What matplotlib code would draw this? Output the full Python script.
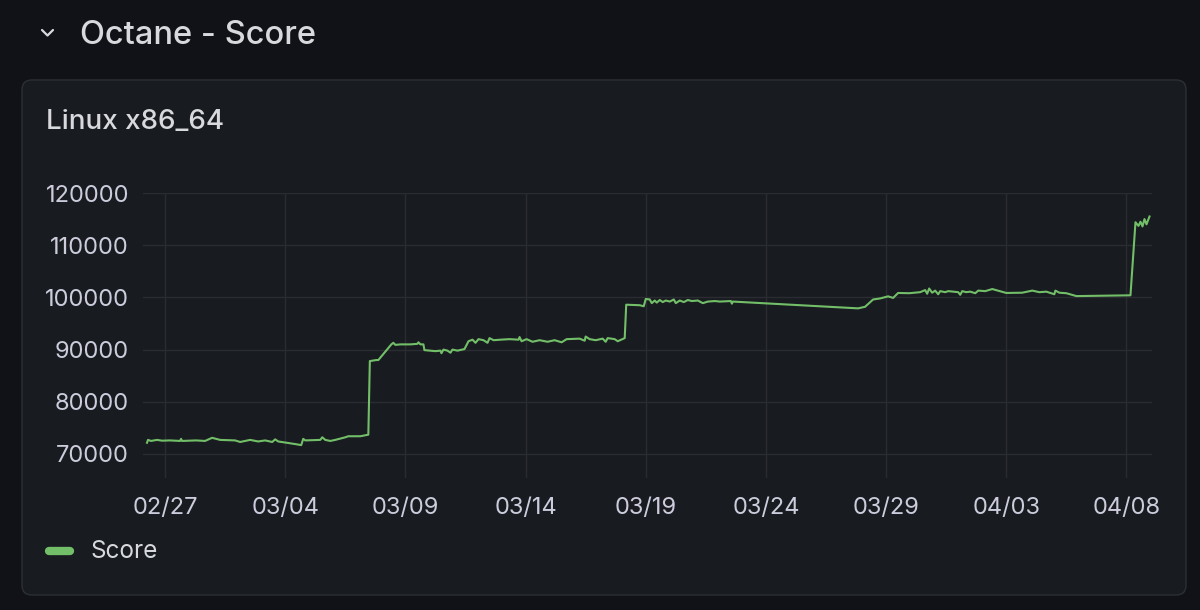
import matplotlib
matplotlib.use("Agg")
import matplotlib.pyplot as plt
import matplotlib.dates as mdates
from matplotlib.patches import FancyBboxPatch
from matplotlib.lines import Line2D
import pandas as pd

# ---------------- data ----------------
times = [
    "02-26 06:00", "02-26 07:00", "02-26 10:00", "02-26 16:00", "02-26 21:00",
    "02-27 05:00", "02-27 15:00", "02-27 16:00", "02-27 17:00", "02-28 07:00",
    "02-28 16:00", "02-28 23:00", "03-01 07:00", "03-01 22:00", "03-02 03:00",
    "03-02 13:00", "03-02 21:00", "03-03 04:00", "03-03 11:00", "03-03 14:00",
    "03-03 17:00", "03-04 10:00", "03-04 16:00", "03-04 18:00", "03-04 20:00",
    "03-05 11:00", "03-05 13:00", "03-05 16:00", "03-05 21:00", "03-06 02:00",
    "03-06 12:00", "03-06 15:00", "03-07 03:00", "03-07 11:00", "03-07 12:30",
    "03-07 19:00", "03-07 21:00", "03-08 10:00", "03-08 12:00", "03-08 14:00",
    "03-08 19:00", "03-09 05:00", "03-09 12:00", "03-09 13:00", "03-09 15:00",
    "03-09 18:00", "03-09 19:00", "03-10 06:00", "03-10 11:00", "03-10 12:00",
    "03-10 14:00", "03-10 18:00", "03-10 21:00", "03-10 23:00", "03-11 04:00",
    "03-11 11:00", "03-11 15:00", "03-11 19:00", "03-11 22:00", "03-12 01:00",
    "03-12 06:00", "03-12 10:00", "03-12 12:00", "03-12 16:00", "03-12 23:00",
    "03-13 08:00", "03-13 17:00", "03-13 18:00", "03-13 20:00", "03-14 01:00",
    "03-14 07:00", "03-14 14:00", "03-14 22:00", "03-15 05:00", "03-15 12:00",
    "03-15 17:00", "03-16 06:00", "03-16 11:00", "03-16 12:00", "03-16 16:00",
    "03-16 22:00", "03-17 05:00", "03-17 08:00", "03-17 10:00", "03-17 17:00",
    "03-17 20:00", "03-18 03:00", "03-18 04:30", "03-18 18:00", "03-18 22:00",
    "03-19 00:00", "03-19 04:00", "03-19 06:00", "03-19 09:00", "03-19 11:00",
    "03-19 14:00", "03-19 17:00", "03-19 20:00", "03-20 00:00", "03-20 04:00",
    "03-20 06:00", "03-20 10:00", "03-20 14:00", "03-20 18:00", "03-20 22:00",
    "03-21 04:00", "03-21 09:00", "03-21 14:00", "03-21 21:00", "03-22 02:00",
    "03-22 13:00", "03-22 14:00", "03-22 15:00", "03-27 20:00", "03-28 03:00",
    "03-28 11:00", "03-28 18:00", "03-29 02:00", "03-29 07:00", "03-29 12:00",
    "03-29 23:00", "03-30 10:00", "03-30 15:00", "03-30 17:00", "03-30 19:00",
    "03-30 22:00", "03-31 01:00", "03-31 04:00", "03-31 06:00", "03-31 11:00",
    "03-31 14:00", "04-01 00:00", "04-01 02:00", "04-01 04:00", "04-01 08:00",
    "04-01 12:00", "04-01 17:00", "04-01 20:00", "04-02 03:00", "04-02 10:00",
    "04-03 00:00", "04-03 16:00", "04-04 02:00", "04-04 09:00", "04-04 16:00",
    "04-05 00:00", "04-05 01:00", "04-05 05:00", "04-05 12:00", "04-05 22:00",
    "04-08 04:00", "04-08 09:00", "04-08 12:00", "04-08 14:00", "04-08 16:00",
    "04-08 18:00", "04-08 20:00", "04-08 23:00",
]
scores = [
    72150, 72700, 72500, 72700, 72550,
    72600, 72500, 72900, 72500, 72600,
    72500, 73100, 72700, 72600, 72300,
    72700, 72400, 72600, 72300, 72800,
    72400, 71900, 71700, 72900, 72600,
    72700, 73200, 72700, 72500, 72700,
    73200, 73400, 73400, 73700, 87800,
    88000, 88000, 91000, 91300, 90900,
    91000, 91000, 91100, 91400, 91000,
    91000, 89900, 89700, 89800, 89300,
    90000, 89800, 89400, 90000, 89800,
    90100, 91600, 91900, 91300, 92000,
    91800, 91300, 92200, 91800, 91900,
    92000, 91900, 92400, 91600, 92000,
    91500, 91800, 91500, 91800, 91400,
    92000, 92100, 91700, 92500, 92000,
    91800, 92100, 91500, 92200, 92000,
    91600, 92200, 98600, 98500, 98300,
    99700, 99600, 98900, 99400, 99000,
    99500, 99100, 99400, 99200, 99600,
    98900, 99400, 99100, 99500, 99300,
    99400, 98900, 99200, 99300, 99200,
    99300, 98800, 99200, 97900, 98200,
    99600, 99800, 100200, 99900, 100850,
    100800, 101000, 101400, 100700, 101700,
    100900, 101300, 100600, 101200, 101000,
    101200, 101000, 100500, 101200, 101000,
    101100, 100800, 101300, 101200, 101600,
    100850, 100900, 101300, 101000, 101100,
    100600, 101300, 100900, 100800, 100250,
    100400, 114400, 113700, 114500, 113600,
    115000, 114000, 115500,
]
year = "2025"
x_tick_dates = ["02-27", "03-04", "03-09", "03-14", "03-19", "03-24", "03-29", "04-03", "04-08"]
y_ticks = [70000, 80000, 90000, 100000, 110000, 120000]
x_range = ["02-26 02:00", "04-09 01:30"]
y_range = [65400, 120000]
section_title = "Octane - Score"
panel_title = "Linux x86_64"
series_name = "Score"

# ---------------- style ----------------
W, H = 1200, 610
BG = "#111217"
PANEL = "#181b1f"
BORDER = "#2c2f36"
GRID = "#2a2c31"
TEXT = "#d8d9dc"
TICK = "#ccccdc"
GREEN = "#73bf69"
FONT = ["Inter", "DejaVu Sans"]
plt.rcParams["font.family"] = FONT

fig = plt.figure(figsize=(W / 100, H / 100), dpi=100, facecolor=BG)

def fx(px):
    return px / W

def fy(py):
    return 1 - py / H

# panel
panel = FancyBboxPatch((fx(22), fy(595)), fx(1186) - fx(22), fy(80) - fy(595),
                       boxstyle="round,pad=0,rounding_size=0.008",
                       transform=fig.transFigure, facecolor=PANEL,
                       edgecolor=BORDER, linewidth=1.0, zorder=-5,
                       mutation_aspect=W / H)
fig.patches.append(panel)

# chevron
fig.add_artist(Line2D([fx(42), fx(47.5), fx(53)], [fy(30), fy(35.5), fy(30)],
                      color=TEXT, lw=1.6, solid_capstyle="round",
                      solid_joinstyle="round", transform=fig.transFigure))

fig.text(fx(80), fy(35), section_title, color=TEXT, fontsize=23.5,
         fontweight="medium", va="center", ha="left")
fig.text(fx(46), fy(122), panel_title, color=TEXT, fontsize=20,
         fontweight="medium", va="center", ha="left")

# axes
ax = fig.add_axes([fx(143), fy(478), fx(1152) - fx(143), fy(193) - fy(478)], zorder=2)
ax.set_facecolor(PANEL)
t = pd.to_datetime([f"{year}-{s}" for s in times])
ax.plot(t, scores, color=GREEN, lw=1.5, solid_joinstyle="round", zorder=3)

ax.set_xlim(pd.to_datetime(f"{year}-{x_range[0]}"), pd.to_datetime(f"{year}-{x_range[1]}"))
ax.set_ylim(*y_range)
ax.set_xticks(pd.to_datetime([f"{year}-{d}" for d in x_tick_dates]))
ax.xaxis.set_major_formatter(mdates.DateFormatter("%m/%d"))
ax.set_yticks(y_ticks)
ax.set_yticklabels([str(v) for v in y_ticks])
ax.grid(True, color=GRID, lw=1.0)
ax.set_axisbelow(True)
for s in ax.spines.values():
    s.set_visible(False)
ax.tick_params(axis="both", length=0, colors=TICK, labelsize=17)
ax.tick_params(axis="y", pad=10)
ax.tick_params(axis="x", pad=14)

# legend
fig.add_artist(Line2D([fx(49), fx(70)], [fy(551), fy(551)], color=GREEN, lw=6,
                      solid_capstyle="round", transform=fig.transFigure))
fig.text(fx(90), fy(551), series_name, color=TEXT, fontsize=17.5,
         va="center", ha="left")

fig.savefig("out.png", dpi=100, facecolor=BG)
